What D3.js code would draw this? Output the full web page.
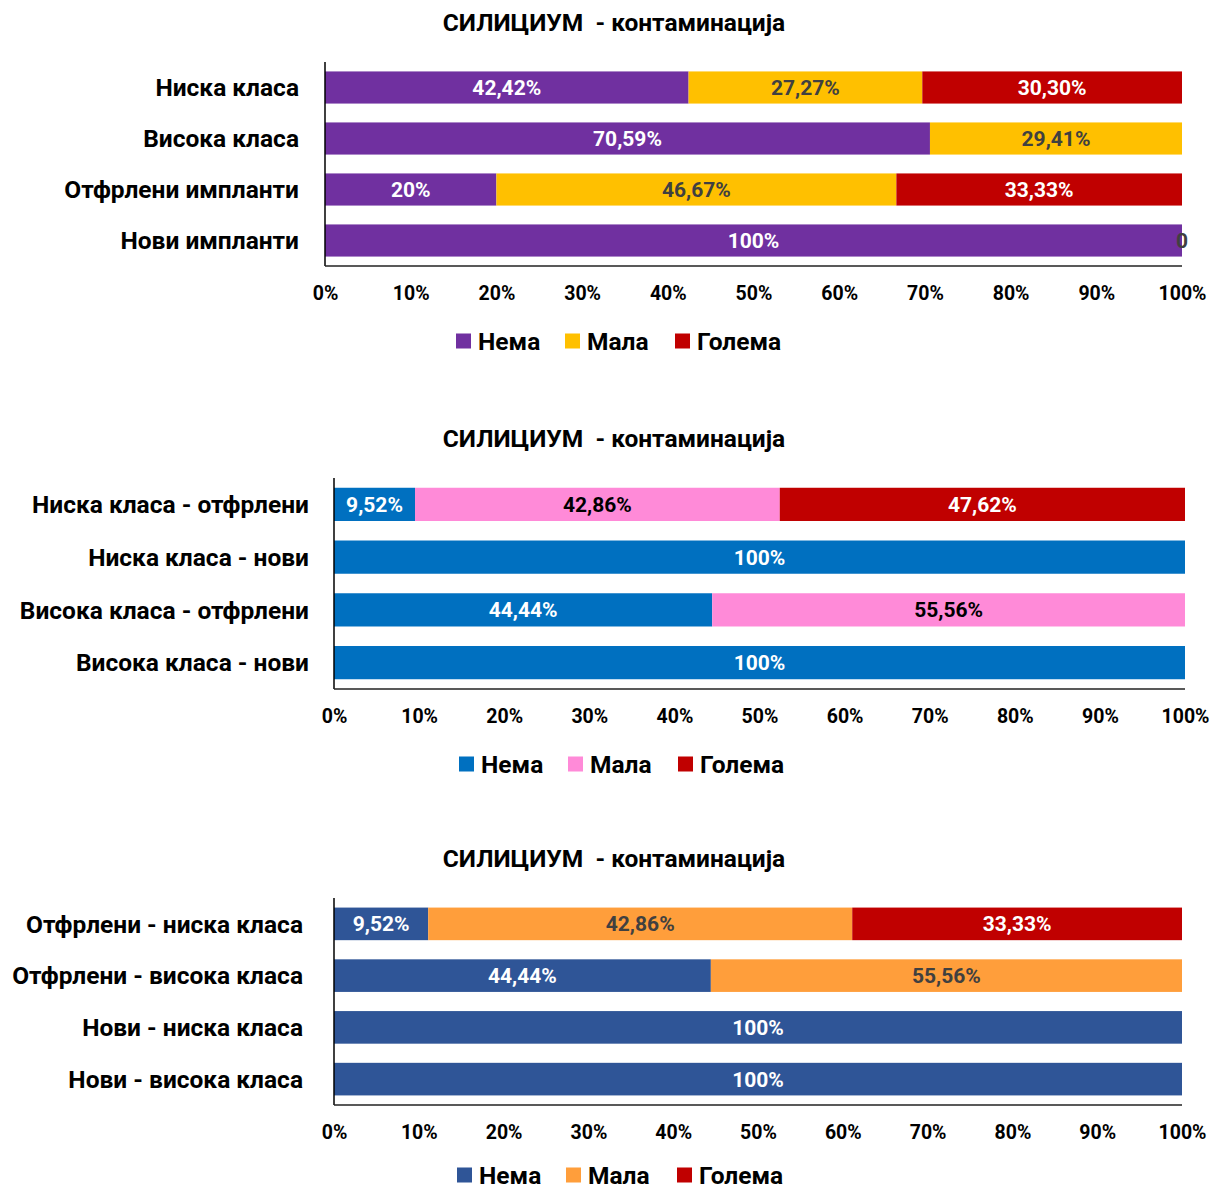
<!DOCTYPE html>
<html><head><meta charset="utf-8">
<script src="https://cdn.jsdelivr.net/npm/d3@7"></script>
<style>
body{margin:0;background:#fff;}
text{font-family:"Roboto",sans-serif;font-weight:bold;white-space:pre;}
</style></head>
<body><svg id="c" width="1216" height="1191"></svg>
<script>
const title = "СИЛИЦИУМ  - контаминација";
const seriesNames = ["Нема", "Мала", "Голема"];
const xTicks = [0, 10, 20, 30, 40, 50, 60, 70, 80, 90, 100];

// Chart 1
const cats1 = ["Ниска класа", "Висока класа", "Отфрлени импланти", "Нови импланти"];
const nema1 = [42.42, 70.59, 20, 100];
const mala1 = [27.27, 29.41, 46.67, 0];
const golema1 = [30.30, 0, 33.33, 0];
const labels1 = [["42,42%", "27,27%", "30,30%"], ["70,59%", "29,41%", null], ["20%", "46,67%", "33,33%"], ["100%", null, "0"]];
const colors1 = ["#7030A0", "#FFC000", "#C00000"];

// Chart 2
const cats2 = ["Ниска класа - отфрлени", "Ниска класа - нови", "Висока класа - отфрлени", "Висока класа - нови"];
const nema2 = [9.52, 100, 44.44, 100];
const mala2 = [42.86, 0, 55.56, 0];
const golema2 = [47.62, 0, 0, 0];
const labels2 = [["9,52%", "42,86%", "47,62%"], ["100%", null, null], ["44,44%", "55,56%", null], ["100%", null, null]];
const colors2 = ["#0070C0", "#FF8AD8", "#C00000"];

// Chart 3
const cats3 = ["Отфрлени - ниска класа", "Отфрлени - висока класа", "Нови - ниска класа", "Нови - висока класа"];
const nema3 = [9.52, 44.44, 100, 100];
const mala3 = [42.86, 55.56, 0, 0];
const golema3 = [33.33, 0, 0, 0];
const labels3 = [["9,52%", "42,86%", "33,33%"], ["44,44%", "55,56%", null], ["100%", null, null], ["100%", null, null]];
const colors3 = ["#2F5597", "#FF9E3B", "#C00000"];

const svg = d3.select("#c");

function drawChart(cfg) {
  const {cats, series, labels, colors, labelColors, top, left, right, plotTop, plotBottom, labelX, legendX, legendDy} = cfg;
  const g = svg.append("g");
  g.append("text").attr("x", 614).attr("y", top).attr("text-anchor", "middle")
    .attr("font-size", 24.5).attr("fill", "#000").text(title);
  const rows = cats.map((c, i) => {
    const vals = series.map(s => s[i]);
    const tot = d3.sum(vals);
    let acc = 0;
    return vals.map((v, j) => { const o = {cat: c, i, j, x0: acc / tot * 100, x1: (acc + v) / tot * 100, lab: labels[i][j]}; acc += v; return o; });
  });
  const x = d3.scaleLinear().domain([0, 100]).range([left, right]);
  const y = d3.scaleBand().domain(cats).range([plotTop, plotBottom]).paddingInner(0.37).paddingOuter(0.185);
  const segs = rows.flat();
  g.selectAll("rect.bar").data(segs.filter(d => d.x1 > d.x0)).join("rect")
    .attr("x", d => x(d.x0)).attr("width", d => x(d.x1) - x(d.x0))
    .attr("y", d => y(d.cat)).attr("height", y.bandwidth())
    .attr("fill", d => colors[d.j]);
  g.selectAll("text.lab").data(segs.filter(d => d.lab)).join("text")
    .attr("x", d => x((d.x0 + d.x1) / 2)).attr("y", d => y(d.cat) + y.bandwidth() / 2)
    .attr("dy", "0.36em").attr("text-anchor", "middle").attr("font-size", 21)
    .attr("fill", d => d.x1 > d.x0 ? labelColors[d.j] : "#404040").text(d => d.lab);
  g.selectAll("text.cat").data(cats).join("text")
    .attr("x", labelX).attr("y", d => y(d) + y.bandwidth() / 2).attr("dy", "0.36em")
    .attr("text-anchor", "end").attr("font-size", 24.5).attr("fill", "#000").text(d => d);
  g.append("line").attr("x1", left).attr("x2", left).attr("y1", plotTop).attr("y2", plotBottom)
    .attr("stroke", "#000").attr("stroke-width", 1.5);
  g.append("line").attr("x1", left).attr("x2", right).attr("y1", plotBottom).attr("y2", plotBottom)
    .attr("stroke", "#222").attr("stroke-width", 1.5);
  const ax = g.append("g").attr("transform", `translate(0,${plotBottom})`)
    .call(d3.axisBottom(x).tickValues(xTicks).tickSize(0).tickPadding(20).tickFormat(d => d + "%"));
  ax.select(".domain").remove();
  ax.selectAll("text").attr("font-size", 19.5).attr("fill", "#000").attr("font-family", null);
  const ly = plotBottom + legendDy;
  const lg = g.append("g");
  seriesNames.forEach((n, j) => {
    lg.append("rect").attr("x", legendX[j]).attr("y", ly - 7.5).attr("width", 15).attr("height", 15).attr("fill", colors[j]);
    lg.append("text").attr("x", legendX[j] + 22).attr("y", ly).attr("dy", "0.36em").attr("font-size", 24.5).attr("fill", "#000").text(n);
  });
}

drawChart({cats: cats1, series: [nema1, mala1, golema1], labels: labels1, colors: colors1,
  labelColors: ["#fff", "#404040", "#fff"], top: 31, left: 325, right: 1182, plotTop: 62, plotBottom: 266,
  labelX: 299, legendX: [456, 565, 675], legendDy: 75});
drawChart({cats: cats2, series: [nema2, mala2, golema2], labels: labels2, colors: colors2,
  labelColors: ["#fff", "#000", "#fff"], top: 447, left: 334, right: 1185, plotTop: 478, plotBottom: 689,
  labelX: 309, legendX: [459, 568, 678], legendDy: 75});
drawChart({cats: cats3, series: [nema3, mala3, golema3], labels: labels3, colors: colors3,
  labelColors: ["#fff", "#404040", "#fff"], top: 867, left: 334, right: 1182, plotTop: 898, plotBottom: 1105,
  labelX: 303, legendX: [457, 566, 677], legendDy: 70});
</script></body></html>
